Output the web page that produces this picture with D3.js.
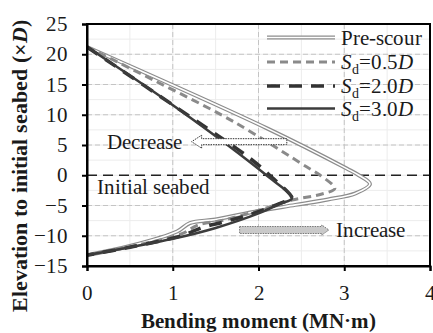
<!DOCTYPE html>
<html>
<head>
<meta charset="utf-8">
<script src="https://cdn.jsdelivr.net/npm/d3@7"></script>
<style>
  @font-face { font-family: "ChartSerif"; src: local("Liberation Serif"), local("LiberationSerif"); font-weight: normal; font-style: normal; }
  @font-face { font-family: "ChartSerif"; src: local("Liberation Serif Bold"), local("LiberationSerif-Bold"); font-weight: bold; font-style: normal; }
  @font-face { font-family: "ChartSerif"; src: local("Liberation Serif Italic"), local("LiberationSerif-Italic"); font-weight: normal; font-style: italic; }
  @font-face { font-family: "ChartSerif"; src: local("Liberation Serif Bold Italic"), local("LiberationSerif-BoldItalic"); font-weight: bold; font-style: italic; }
  body { margin: 0; background: #fff; }
</style>
</head>
<body>
<script>
// Bending moment (MN·m) vs elevation (×D)
const preScour = [[0, 21.2], [2.1, 7.75], [3.03, 1.1], [3.17, 0], [3.30, -1.45], [3.13, -3.0], [2.81, -4.0],
  [2.43, -4.9], [2.0, -5.9], [1.5, -7.3], [1.2, -7.9], [1.05, -9.3], [0.5, -11.7], [0, -13.2]];
const sd05 = [[0, 21.2], [0.78, 15.7], [1.71, 8.85], [2.56, 1.4], [2.72, 0], [2.89, -2.2], [2.74, -3.1],
  [2.39, -4.1], [2.0, -5.8], [1.6, -7.4], [1.3, -8.2], [1.1, -9.7], [0.5, -11.8], [0, -13.2]];
const sd20 = [[0, 21.2], [1.2, 9.7], [1.9, 2.8], [2.13, 0], [2.39, -3.8], [2.33, -4.2], [1.9, -6.5],
  [1.6, -7.7], [1.35, -8.6], [1.1, -10.0], [0.5, -11.9], [0, -13.2]];
const sd30 = [[0, 21.2], [0.97, 11.9], [2.1, -0.1], [2.39, -3.8], [2.25, -4.7], [2.0, -6.3],
  [1.5, -8.7], [1.0, -10.5], [0.5, -11.9], [0, -13.2]];

const xTicks = [0, 1, 2, 3, 4];
const yTicks = [-15, -10, -5, 0, 5, 10, 15, 20, 25];
const legendLabels = ["Pre-scour", "0.5", "2.0", "3.0"];

const W = 433, H = 333;
const serif = "ChartSerif, 'Liberation Serif', serif";
const x = d3.scaleLinear().domain([0, 4]).range([87, 430]);
const y = d3.scaleLinear().domain([-15, 25]).range([266, 24]);

const svg = d3.select("body").append("svg")
    .attr("width", W)
    .attr("height", H)
    .style("font-family", serif);

// minor grid
svg.append("g").selectAll("line")
    .data(d3.range(0.5, 4, 0.5))
    .join("line")
    .attr("x1", d => x(d)).attr("x2", d => x(d))
    .attr("y1", y(25)).attr("y2", y(-15))
    .attr("stroke", "#ececec");
svg.append("g").selectAll("line")
    .data(d3.range(-12.5, 25, 2.5))
    .join("line")
    .attr("x1", x(0)).attr("x2", x(4))
    .attr("y1", d => y(d)).attr("y2", d => y(d))
    .attr("stroke", "#ececec");

// major grid
svg.append("g").selectAll("line")
    .data([1, 2, 3])
    .join("line")
    .attr("x1", d => x(d)).attr("x2", d => x(d))
    .attr("y1", y(25)).attr("y2", y(-15))
    .attr("stroke", "#c4c4c4")
    .attr("stroke-dasharray", "5,3");
svg.append("g").selectAll("line")
    .data([-10, -5, 5, 10, 15, 20])
    .join("line")
    .attr("x1", x(0)).attr("x2", x(4))
    .attr("y1", d => y(d)).attr("y2", d => y(d))
    .attr("stroke", "#c4c4c4")
    .attr("stroke-dasharray", "5,3");

// initial seabed line
svg.append("line")
    .attr("x1", x(0)).attr("x2", x(4))
    .attr("y1", y(0)).attr("y2", y(0))
    .attr("stroke", "#222")
    .attr("stroke-width", 1.3)
    .attr("stroke-dasharray", "10,6");

// curves
const line = d3.line()
    .x(d => x(d[0]))
    .y(d => y(d[1]))
    .curve(d3.curveCatmullRom.alpha(0.5));

svg.append("path").datum(preScour)
    .attr("d", line).attr("fill", "none")
    .attr("stroke", "#8c8c8c").attr("stroke-width", 4);
svg.append("path").datum(preScour)
    .attr("d", line).attr("fill", "none")
    .attr("stroke", "#fff").attr("stroke-width", 1.6);
svg.append("path").datum(sd05)
    .attr("d", line).attr("fill", "none")
    .attr("stroke", "#8a8a8a").attr("stroke-width", 3)
    .attr("stroke-dasharray", "8,5");
svg.append("path").datum(sd20)
    .attr("d", line).attr("fill", "none")
    .attr("stroke", "#333").attr("stroke-width", 3.5)
    .attr("stroke-dasharray", "13,9");
svg.append("path").datum(sd30)
    .attr("d", line).attr("fill", "none")
    .attr("stroke", "#3c3c3c").attr("stroke-width", 2.6);

// annotations
function arrowPath(x0, x1, yc, bh, hh, hl) {
  const dir = x1 > x0 ? 1 : -1;
  const xb = x1 - dir * hl;
  return `M${x0},${yc - bh / 2} L${xb},${yc - bh / 2} L${xb},${yc - hh / 2} L${x1},${yc} ` +
    `L${xb},${yc + hh / 2} L${xb},${yc + bh / 2} L${x0},${yc + bh / 2} Z`;
}
svg.append("path")
    .attr("d", arrowPath(x(2.33), x(1.22), y(5.55), 6, 13, 10))
    .attr("fill", "#fff")
    .attr("stroke", "#333")
    .attr("stroke-width", 1)
    .attr("stroke-dasharray", "1.5,1");
svg.append("text")
    .attr("x", 107).attr("y", y(5.55) + 7)
    .style("font-size", "21px")
    .text("Decrease");

svg.append("path")
    .attr("d", arrowPath(x(1.78), x(2.82), y(-9.05), 7, 10, 7))
    .attr("fill", "#c9c9c9")
    .attr("stroke", "#777")
    .attr("stroke-width", 1)
    .attr("stroke-dasharray", "1.5,1");
svg.append("text")
    .attr("x", 336).attr("y", y(-9.05) + 7)
    .style("font-size", "21px")
    .text("Increase");

svg.append("text")
    .attr("x", 97).attr("y", 194)
    .style("font-size", "21px")
    .text("Initial seabed");

// axes
const xAxis = svg.append("g")
    .attr("transform", `translate(0,${y(-15)})`)
    .call(d3.axisBottom(x).tickValues(xTicks).tickFormat(d3.format("d")).tickSize(5).tickPadding(14));
const yAxis = svg.append("g")
    .attr("transform", `translate(${x(0)},0)`)
    .call(d3.axisLeft(y).tickValues(yTicks).tickSize(5).tickPadding(14));
[xAxis, yAxis].forEach(g => {
  g.attr("font-family", serif).attr("font-size", 21);
  g.selectAll("path, line").attr("stroke", "#000").attr("stroke-width", 2);
});

// frame top / right
svg.append("rect")
    .attr("x", x(0)).attr("y", y(25))
    .attr("width", x(4) - x(0)).attr("height", y(-15) - y(25))
    .attr("fill", "none")
    .attr("stroke", "#000")
    .attr("stroke-width", 2);

// axis titles
svg.append("text")
    .attr("x", (x(0) + x(4)) / 2).attr("y", 328)
    .attr("text-anchor", "middle")
    .style("font-size", "21px")
    .style("font-weight", "bold")
    .text("Bending moment (MN·m)");

const yTitle = svg.append("text")
    .attr("transform", "translate(27,166) rotate(-90)")
    .attr("text-anchor", "middle")
    .style("font-size", "22px")
    .style("font-weight", "bold");
yTitle.append("tspan").text("Elevation to initial seabed (×");
yTitle.append("tspan").style("font-style", "italic").text("D");
yTitle.append("tspan").text(")");

// legend
const legendStyles = [
  { stroke: "#8c8c8c", width: 4, dash: null, inner: true },
  { stroke: "#8a8a8a", width: 3, dash: "8,5" },
  { stroke: "#333", width: 3.5, dash: "13,9" },
  { stroke: "#3c3c3c", width: 2.6, dash: null }
];
const legendY = [37.5, 62, 86, 108.5];
const legend = svg.append("g");
legendLabels.forEach((lab, i) => {
  const st = legendStyles[i];
  legend.append("line")
      .attr("x1", 267).attr("x2", 335)
      .attr("y1", legendY[i]).attr("y2", legendY[i])
      .attr("stroke", st.stroke).attr("stroke-width", st.width)
      .attr("stroke-dasharray", st.dash);
  if (st.inner) {
    legend.append("line")
        .attr("x1", 267).attr("x2", 335)
        .attr("y1", legendY[i]).attr("y2", legendY[i])
        .attr("stroke", "#fff").attr("stroke-width", 1.6);
  }
  const t = legend.append("text")
      .attr("x", 341).attr("y", legendY[i])
      .attr("dy", "0.35em")
      .style("font-size", "21px");
  if (i === 0) {
    t.text(lab);
  } else {
    t.append("tspan").style("font-style", "italic").text("S");
    t.append("tspan").style("font-size", "14px").attr("dy", 5).text("d");
    t.append("tspan").attr("dy", -5).text("=" + lab);
    t.append("tspan").style("font-style", "italic").text("D");
  }
});

svg.selectAll("text").attr("fill", "#1a1a1a");
</script>
</body>
</html>
